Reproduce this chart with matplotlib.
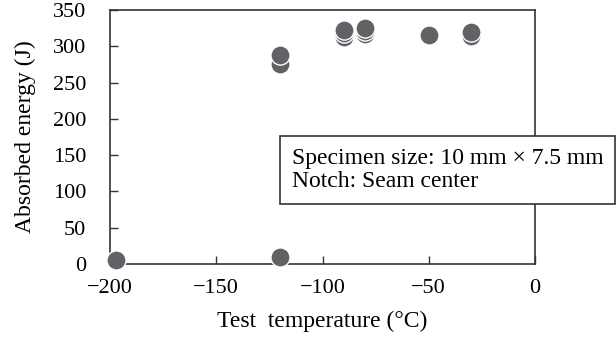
import matplotlib.pyplot as plt

plt.rcParams['font.family'] = ['Liberation Serif', 'DejaVu Serif']
plt.rcParams['font.size'] = 16

# Charpy test data
temp = [-197, -120, -120, -120, -90, -90, -90, -80, -80, -80, -50, -30, -30]
energy = [5, 10, 276, 288, 313, 318, 323, 317, 321, 325, 316, 314, 319]

fig = plt.figure(figsize=(6.16, 3.4), dpi=100)
ax = fig.add_axes([110 / 616, 1 - 264 / 340, 425 / 616, 254 / 340])

ax.scatter(temp, energy, s=190, color='#616166', edgecolors='white',
           linewidths=1.0, zorder=3, clip_on=False)

ax.set_xlim(-200, 0)
ax.set_ylim(0, 350)
ax.set_xticks([-200, -150, -100, -50, 0])
ax.set_xticklabels(['\u2212200', '\u2212150', '\u2212100', '\u221250', '0'])
ax.set_yticks(range(0, 351, 50))
ax.tick_params(direction='in', length=6, width=1.0, color='#333333',
               top=False, right=False)
ax.tick_params(axis='x', pad=11)
ax.tick_params(axis='y', pad=17)
for s in ax.spines.values():
    s.set_color('#333333')
    s.set_linewidth(1.2)

ax.set_xlabel('Test  temperature (\u00b0C)', fontsize=17, labelpad=9)
ax.set_ylabel('Absorbed energy (J)', fontsize=17, labelpad=12)

fig.text(292 / 616, 1 - 170 / 340,
         'Specimen size: 10 mm \u00d7 7.5 mm\nNotch: Seam center',
         fontsize=17, va='center', ha='left', linespacing=1.1,
         bbox=dict(boxstyle='square,pad=0.5', fc='white', ec='#333333', lw=1.2))

fig.savefig('out.png', dpi=100)
